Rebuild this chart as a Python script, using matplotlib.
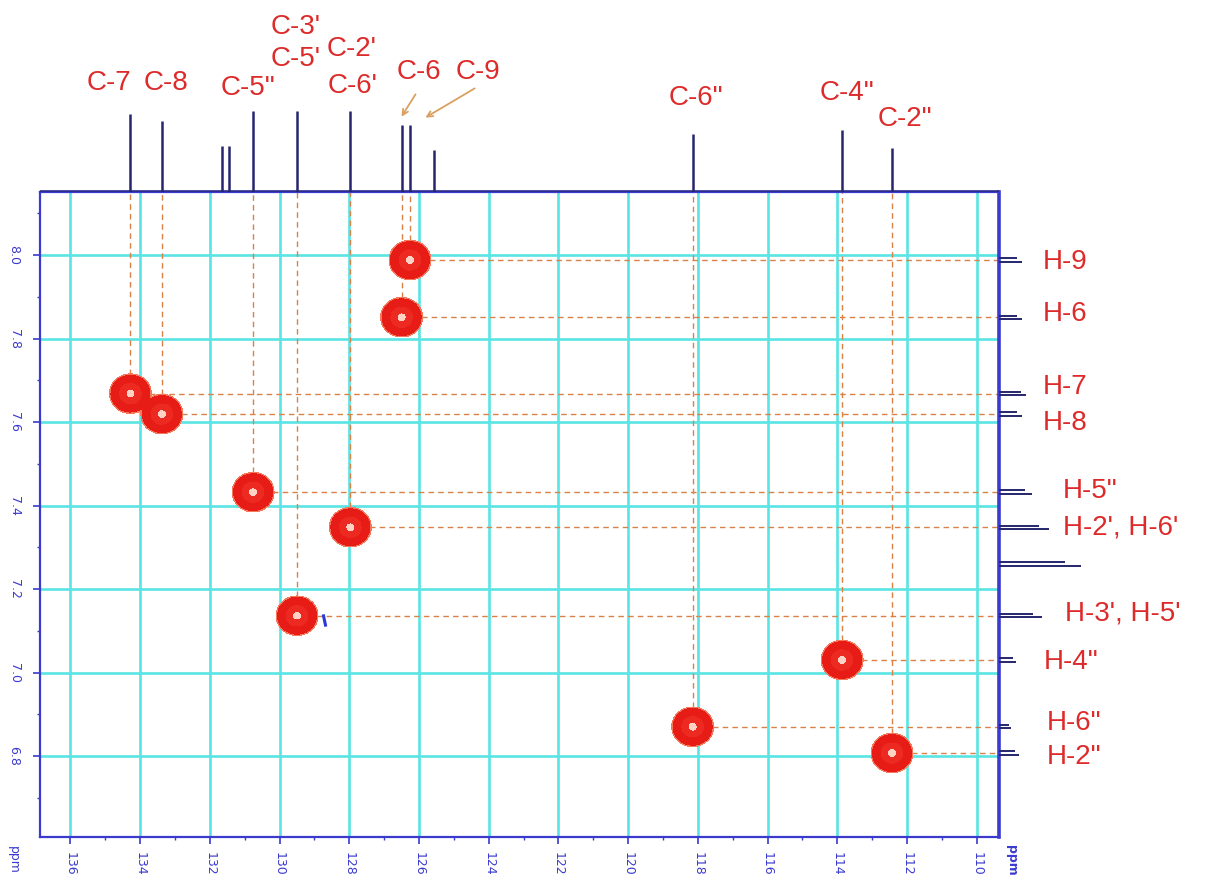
import numpy as np
import matplotlib
matplotlib.use("Agg")
import matplotlib.pyplot as plt
from matplotlib.ticker import MultipleLocator

# ---------------- data ----------------
# 13C projection (ppm, relative intensity)
c13_shift = [134.28, 133.38, 131.64, 131.44, 130.76, 129.50, 127.97,
             126.50, 126.26, 125.57, 118.15, 113.86, 112.43]
c13_height = [78, 71, 46, 46, 81, 81, 81, 67, 67, 42, 58, 62, 44]

# 1H projection (ppm, relative intensity)
h1_shift = [7.988, 7.851, 7.668, 7.619, 7.432, 7.348, 7.260,
            7.136, 7.030, 6.870, 6.807]
h1_height = [23, 23, 27, 23, 33, 50, 82, 43, 17, 12, 20]

# HSQC cross peaks (13C ppm, 1H ppm)
hsqc_c = [134.28, 133.38, 130.76, 129.50, 127.97, 126.50, 126.26,
          118.15, 113.86, 112.43]
hsqc_h = [7.668, 7.619, 7.432, 7.136, 7.348, 7.851, 7.988,
          6.870, 7.030, 6.807]

# small negative contour next to H-3'/H-5'
artifact_c = [128.72]
artifact_h = [7.126]

x_ticks = [136, 134, 132, 130, 128, 126, 124, 122, 120, 118, 116, 114, 112, 110]
y_ticks = [8.0, 7.8, 7.6, 7.4, 7.2, 7.0, 6.8]

carbon_labels = ["C-7", "C-8", 'C-5"', "C-3'", "C-5'", "C-2'", "C-6'",
                 "C-6", "C-9", 'C-6"', 'C-4"', 'C-2"']
proton_labels = ["H-9", "H-6", "H-7", "H-8", 'H-5"', "H-2', H-6'",
                 "H-3', H-5'", 'H-4"', 'H-6"', 'H-2"']

# ---------------- style ----------------
W, H = 1210, 881
BLUE = "#3a3acf"
NAVY = "#26266e"
GRID = "#5ae4e4"
DASH = "#d98248"
RED_TXT = "#dd2a2a"
ARROW = "#d9a060"

plt.rcParams["font.family"] = ["Liberation Sans", "DejaVu Sans"]

fig = plt.figure(figsize=(W / 100, H / 100), dpi=100)


def fx(px):
    return px / W


def fy(py):
    return 1 - py / H


left, right, top, bottom = 40, 999, 192, 837
ax = fig.add_axes([fx(left), fy(bottom), fx(right - left), (bottom - top) / H])
ax.set_xlim(136.875, 109.36)
ax.set_ylim(6.606, 8.151)

# grid
ax.set_xticks(x_ticks)
ax.set_yticks(y_ticks)
ax.xaxis.set_minor_locator(MultipleLocator(1))
ax.yaxis.set_minor_locator(MultipleLocator(0.1))
ax.grid(True, which="major", color=GRID, lw=1.9, zorder=0)
ax.set_axisbelow(True)

ax.set_xticklabels([f"{t:d}" for t in x_ticks], rotation=-90, fontsize=9,
                   color=BLUE, family="DejaVu Sans")
ax.set_yticklabels([f"{t:.1f}" for t in y_ticks], rotation=-90, fontsize=9,
                   color=BLUE, family="DejaVu Sans", va="center")
ax.tick_params(which="major", direction="out", length=5, width=1.2, color=BLUE, pad=6)
ax.tick_params(which="minor", direction="out", length=2.5, width=1, color=BLUE)
ax.tick_params(axis="y", which="major", pad=9)
for s in ax.spines.values():
    s.set_color(BLUE)
    s.set_linewidth(1.6)
ax.spines["right"].set_linewidth(2.6)

# dashed guide lines from the projections to each cross peak
ytop = ax.get_ylim()[1]
xright = ax.get_xlim()[1]
for c, h in zip(hsqc_c, hsqc_h):
    ax.plot([c, c], [h, ytop], ls=(0, (4, 3)), color=DASH, lw=1.0, zorder=2)
    ax.plot([c, xright], [h, h], ls=(0, (4, 3)), color=DASH, lw=1.0, zorder=2)

# cross peaks as contour plot of 2D gaussians
gx = np.linspace(109.36, 136.875, 1600)
gy = np.linspace(6.606, 8.151, 1000)
X, Y = np.meshgrid(gx, gy)
Z = np.zeros_like(X)
sx, sy = 0.26, 0.0205
for c, h in zip(hsqc_c, hsqc_h):
    Z = np.maximum(Z, np.exp(-0.5 * ((X - c) / sx) ** 2 - 0.5 * ((Y - h) / sy) ** 2))
ax.contourf(X, Y, Z, levels=[0.07, 0.1, 0.5, 0.93, 1.01],
            colors=["#f4785c", "#e81c16", "#ec2a22", "#ffd2c4"], zorder=4)

ax.plot(artifact_c, artifact_h, ls="none", marker=(2, 0, 12), ms=9,
        mew=2.2, color="#2a3ad0", zorder=4)

# 13C projection on top
ax_top = fig.add_axes([fx(left), fy(top), fx(right - left), 110 / H], sharex=ax)
ax_top.set_ylim(0, 110)
ax_top.axis("off")
ax_top.axhline(0, color="#2c2c90", lw=2.6, zorder=1)
ax_top.vlines(c13_shift, 0, c13_height, color=NAVY, lw=1.8, zorder=2)

# 1H projection on the right
ax_r = fig.add_axes([fx(right), fy(bottom), 110 / W, (bottom - top) / H], sharey=ax)
ax_r.set_xlim(0, 110)
ax_r.axis("off")
for s, hgt in zip(h1_shift, h1_height):
    ax_r.hlines([s - 0.004, s + 0.004], 0, [hgt, hgt * 0.8], color=NAVY, lw=1.4)

# carbon labels
c_pos = [(109, 83), (166, 83), (248, 88), (296, 27), (296, 59), (352, 49),
         (353, 86), (419, 72), (478, 72), (696, 98), (847, 93), (905, 119)]
for txt, (px, py) in zip(carbon_labels, c_pos):
    fig.text(fx(px), fy(py), txt, color=RED_TXT, fontsize=20,
             ha="center", va="center")

# proton labels
h_pos = [(1043, 262), (1043, 314), (1043, 387), (1043, 423), (1063, 491),
         (1063, 527), (1065, 614), (1044, 662), (1047, 723), (1047, 757)]
for txt, (px, py) in zip(proton_labels, h_pos):
    fig.text(fx(px), fy(py), txt, color=RED_TXT, fontsize=20,
             ha="left", va="center")

# arrows pointing at C-6 and C-9
for (x0, y0), (x1, y1) in [((417, 92), (400, 119)), ((477, 87), (423, 119))]:
    ax_top.annotate("", xy=(x1, H - y1), xytext=(x0, H - y0),
                    xycoords="figure pixels", textcoords="figure pixels",
                    arrowprops=dict(arrowstyle="->", color=ARROW, lw=1.3))

# axis unit labels
fig.text(fx(13), fy(860), "ppm", rotation=-90, fontsize=9, color=BLUE,
         family="DejaVu Sans", ha="center", va="center")
fig.text(fx(1011), fy(860), "ppm", rotation=-90, fontsize=9, color=BLUE,
         family="DejaVu Sans", ha="center", va="center", weight="bold")

fig.savefig("out.png", dpi=100)
